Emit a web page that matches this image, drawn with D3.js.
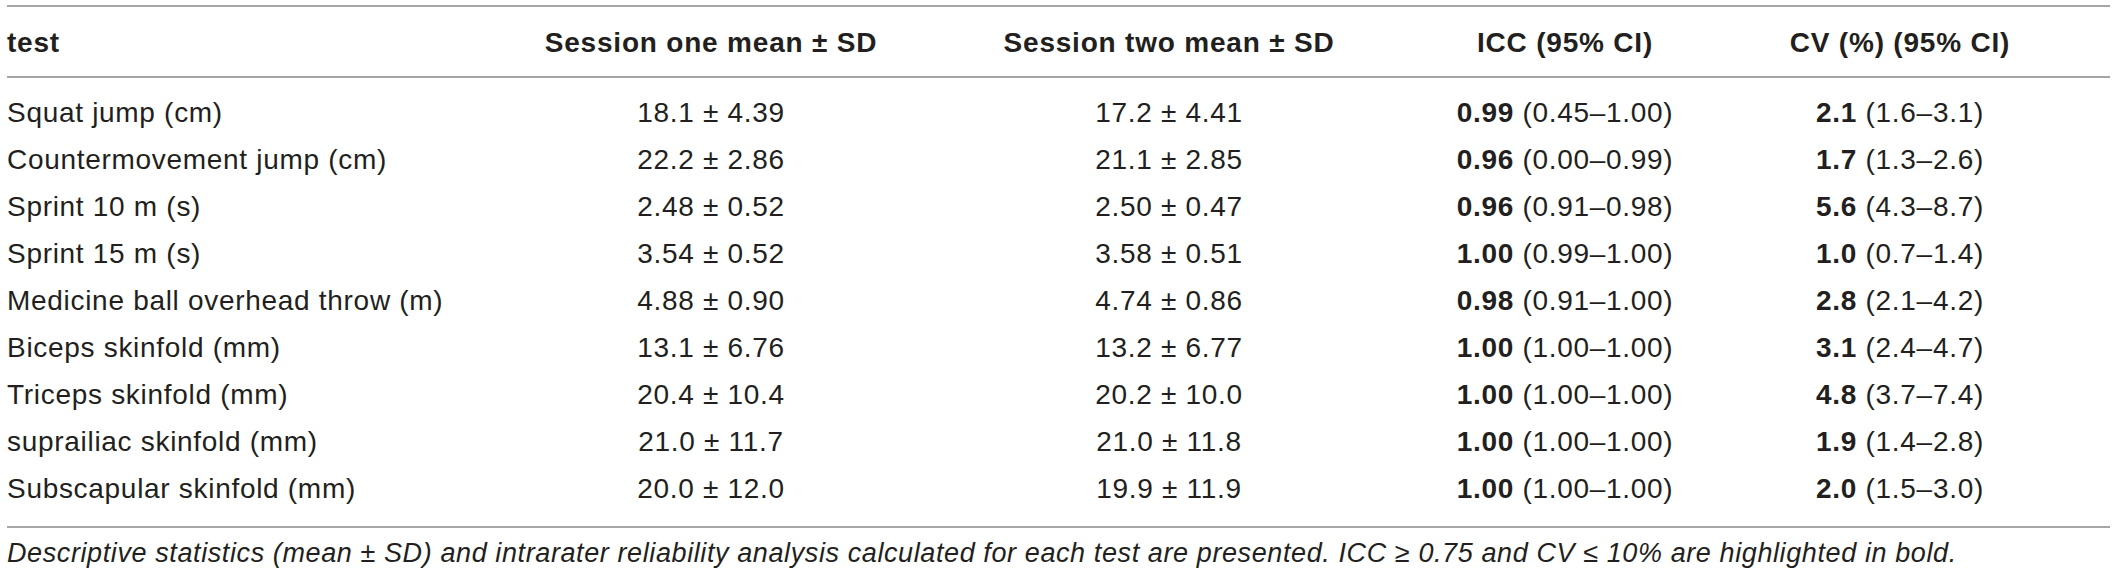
<!DOCTYPE html>
<meta charset="utf-8">
<script src="https://cdn.jsdelivr.net/npm/d3@7"></script>
<style>
body { margin: 0; background: #fff; }
text { font-family: "Liberation Sans", Arial, sans-serif; fill: #231f20; }
.head { font-weight: bold; letter-spacing: 0.8px; }
.row text { letter-spacing: 0.7px; }
.rule { stroke: #a6a6a6; stroke-width: 2; }
</style>
<body>
<script>

var width = 2118
var height = 575

// table data
var headers = ["test", "Session one mean \u00b1 SD", "Session two mean \u00b1 SD", "ICC (95% CI)", "CV (%) (95% CI)"]
var tests = ["Squat jump (cm)", "Countermovement jump (cm)", "Sprint 10 m (s)", "Sprint 15 m (s)",
             "Medicine ball overhead throw (m)", "Biceps skinfold (mm)", "Triceps skinfold (mm)",
             "suprailiac skinfold (mm)", "Subscapular skinfold (mm)"]
var s1_mean = ["18.1", "22.2", "2.48", "3.54", "4.88", "13.1", "20.4", "21.0", "20.0"]
var s1_sd   = ["4.39", "2.86", "0.52", "0.52", "0.90", "6.76", "10.4", "11.7", "12.0"]
var s2_mean = ["17.2", "21.1", "2.50", "3.58", "4.74", "13.2", "20.2", "21.0", "19.9"]
var s2_sd   = ["4.41", "2.85", "0.47", "0.51", "0.86", "6.77", "10.0", "11.8", "11.9"]
var icc     = ["0.99", "0.96", "0.96", "1.00", "0.98", "1.00", "1.00", "1.00", "1.00"]
var icc_lo  = ["0.45", "0.00", "0.91", "0.99", "0.91", "1.00", "1.00", "1.00", "1.00"]
var icc_hi  = ["1.00", "0.99", "0.98", "1.00", "1.00", "1.00", "1.00", "1.00", "1.00"]
var cv      = ["2.1", "1.7", "5.6", "1.0", "2.8", "3.1", "4.8", "1.9", "2.0"]
var cv_lo   = ["1.6", "1.3", "4.3", "0.7", "2.1", "2.4", "3.7", "1.4", "1.5"]
var cv_hi   = ["3.1", "2.6", "8.7", "1.4", "4.2", "4.7", "7.4", "2.8", "3.0"]
var note = "Descriptive statistics (mean \u00b1 SD) and intrarater reliability analysis calculated for each test are presented. ICC \u2265 0.75 and CV \u2264 10% are highlighted in bold."

var svg = d3.select("body").append("svg")
            .attr("width", width)
            .attr("height", height)

// columns and rows
var colX = d3.scaleOrdinal().domain(d3.range(5)).range([7, 711, 1169, 1565, 1900])
var rowY = d3.scalePoint().domain(tests).range([122, 498])

var fs = 28

// rules
svg.selectAll(".rule").data([6, 77, 527]).enter().append("line")
   .attr("class", "rule")
   .attr("x1", 7).attr("x2", 2110)
   .attr("y1", d => d).attr("y2", d => d)

// header
svg.selectAll(".head").data(headers).enter().append("text")
   .attr("class", "head")
   .attr("x", (d, i) => colX(i))
   .attr("y", 52)
   .style("font-size", fs + "px")
   .style("text-anchor", (d, i) => i == 0 ? "start" : "middle")
   .text(d => d)

// body rows
var rows = svg.selectAll(".row").data(tests).enter().append("g")
              .attr("class", "row")
              .attr("transform", d => "translate(0," + rowY(d) + ")")
              .style("font-size", fs + "px")

rows.append("text").attr("x", colX(0)).text(d => d)

rows.append("text").attr("x", colX(1)).style("text-anchor", "middle")
    .text((d, i) => s1_mean[i] + " \u00b1 " + s1_sd[i])

rows.append("text").attr("x", colX(2)).style("text-anchor", "middle")
    .text((d, i) => s2_mean[i] + " \u00b1 " + s2_sd[i])

var t3 = rows.append("text").attr("x", colX(3)).style("text-anchor", "middle")
t3.append("tspan").style("font-weight", "bold").text((d, i) => icc[i])
t3.append("tspan").text((d, i) => " (" + icc_lo[i] + "\u2013" + icc_hi[i] + ")")

var t4 = rows.append("text").attr("x", colX(4)).style("text-anchor", "middle")
t4.append("tspan").style("font-weight", "bold").text((d, i) => cv[i])
t4.append("tspan").text((d, i) => " (" + cv_lo[i] + "\u2013" + cv_hi[i] + ")")

// footnote
svg.append("text")
   .attr("x", 7)
   .attr("y", 562)
   .style("font-size", "27px")
   .style("font-style", "italic")
   .style("letter-spacing", "0.6px")
   .text(note)

</script>
</body>
